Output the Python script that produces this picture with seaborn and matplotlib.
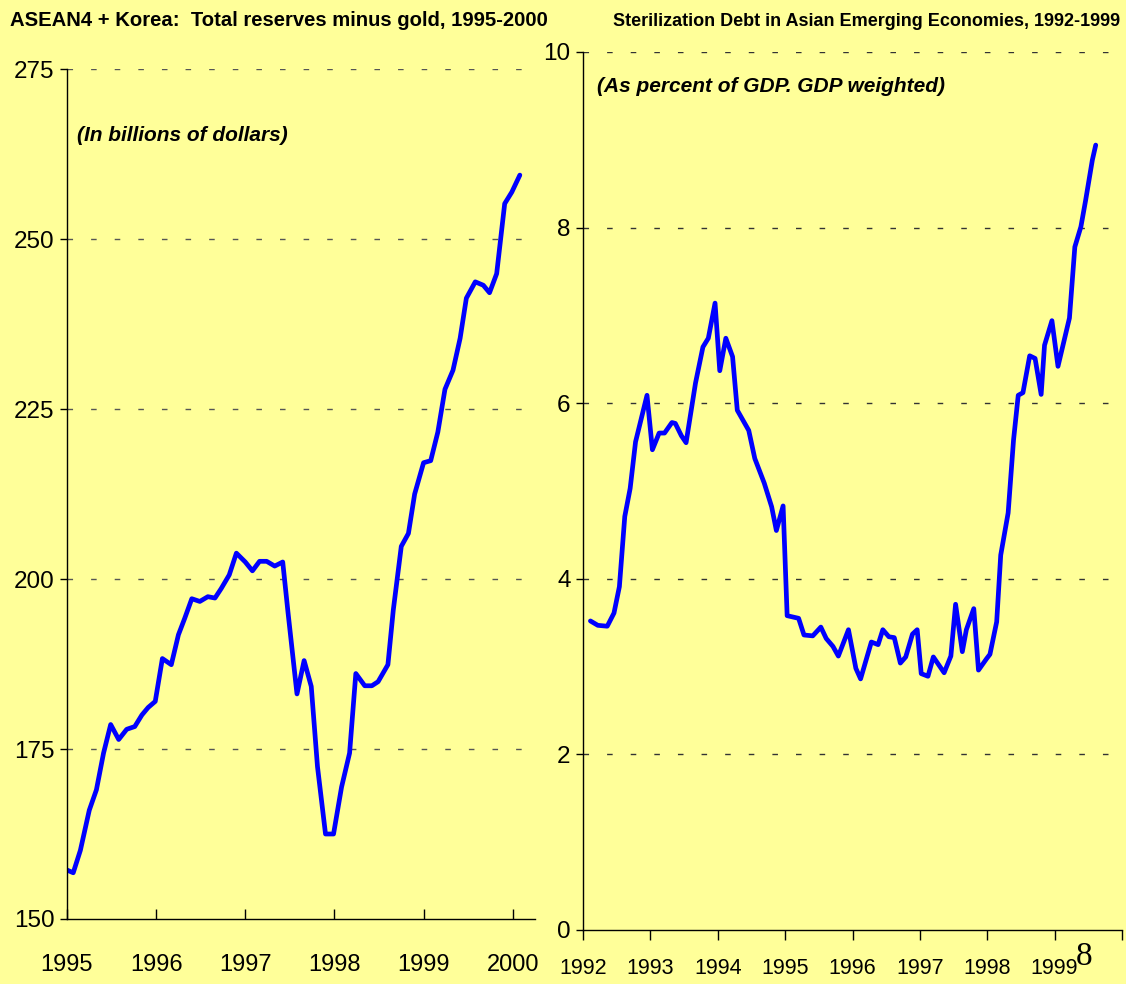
import numpy as np
import pandas as pd
import seaborn as sb
import matplotlib.pyplot as plt

# ASEAN4 + Korea reserves (billions of dollars)
reserve_dates = [1995.00, 1995.07, 1995.15, 1995.25, 1995.33, 1995.41, 1995.49, 1995.58,
                 1995.67, 1995.76, 1995.84, 1995.91, 1995.99, 1996.07, 1996.17, 1996.25,
                 1996.32, 1996.40, 1996.49, 1996.58, 1996.66, 1996.73, 1996.82, 1996.90,
                 1997.00, 1997.08, 1997.16, 1997.24, 1997.33, 1997.42, 1997.48, 1997.58,
                 1997.66, 1997.74, 1997.81, 1997.90, 1997.99, 1998.08, 1998.17, 1998.24,
                 1998.34, 1998.42, 1998.49, 1998.60, 1998.66, 1998.75, 1998.83, 1998.90,
                 1999.00, 1999.08, 1999.16, 1999.24, 1999.33, 1999.41, 1999.48, 1999.58,
                 1999.67, 1999.74, 1999.82, 1999.91, 1999.99, 2000.08]
reserves = [157.2, 156.8, 160.1, 166.0, 169.0, 174.4, 178.6, 176.4,
            177.9, 178.3, 180.0, 181.1, 182.0, 188.3, 187.4, 191.8,
            194.2, 197.1, 196.7, 197.4, 197.2, 198.6, 200.6, 203.8,
            202.5, 201.2, 202.6, 202.6, 201.9, 202.5, 195.0, 183.1,
            188.0, 184.2, 172.4, 162.5, 162.5, 169.4, 174.4, 186.1,
            184.3, 184.3, 184.9, 187.4, 195.4, 204.8, 206.7, 212.5,
            217.1, 217.4, 221.6, 227.9, 230.7, 235.4, 241.3, 243.7,
            243.2, 242.1, 244.9, 255.2, 256.9, 259.4]

# Sterilization debt (percent of GDP)
debt_dates = [1992.11, 1992.22, 1992.36, 1992.46, 1992.54, 1992.62, 1992.70, 1992.78,
              1992.95, 1993.03, 1993.13, 1993.21, 1993.32, 1993.37, 1993.46, 1993.53,
              1993.67, 1993.78, 1993.86, 1993.96, 1994.03, 1994.12, 1994.22, 1994.29,
              1994.46, 1994.55, 1994.69, 1994.80, 1994.87, 1994.97, 1995.03, 1995.20,
              1995.28, 1995.41, 1995.53, 1995.61, 1995.71, 1995.79, 1995.94, 1996.05,
              1996.12, 1996.28, 1996.38, 1996.45, 1996.54, 1996.62, 1996.71, 1996.79,
              1996.89, 1996.96, 1997.02, 1997.12, 1997.20, 1997.36, 1997.46, 1997.53,
              1997.63, 1997.69, 1997.80, 1997.87, 1997.99, 1998.04, 1998.14, 1998.20,
              1998.31, 1998.39, 1998.46, 1998.53, 1998.63, 1998.71, 1998.80, 1998.85,
              1998.96, 1999.05, 1999.22, 1999.30, 1999.39, 1999.46, 1999.56, 1999.61]
debt_pct = [3.52, 3.47, 3.46, 3.61, 3.91, 4.71, 5.03, 5.56,
            6.09, 5.47, 5.66, 5.66, 5.78, 5.77, 5.63, 5.55,
            6.23, 6.64, 6.74, 7.14, 6.37, 6.74, 6.53, 5.92,
            5.69, 5.37, 5.09, 4.82, 4.55, 4.83, 3.58, 3.55,
            3.36, 3.35, 3.45, 3.32, 3.23, 3.12, 3.42, 2.98,
            2.86, 3.28, 3.25, 3.42, 3.34, 3.33, 3.04, 3.11,
            3.37, 3.42, 2.92, 2.89, 3.11, 2.93, 3.12, 3.71,
            3.17, 3.42, 3.66, 2.96, 3.09, 3.14, 3.51, 4.27,
            4.75, 5.58, 6.09, 6.12, 6.54, 6.51, 6.10, 6.66,
            6.94, 6.42, 6.97, 7.78, 8.01, 8.31, 8.77, 8.94]

reserve_years = [1995, 1996, 1997, 1998, 1999, 2000]
reserve_ticks = [150, 175, 200, 225, 250, 275]
debt_years = [1992, 1993, 1994, 1995, 1996, 1997, 1998, 1999, 2000]
debt_year_labels = ['1992', '1993', '1994', '1995', '1996', '1997', '1998', '1999', '']
debt_ticks = [0, 2, 4, 6, 8, 10]

BG = '#FFFF99'
BLUE = '#0000FF'

sb.set_style('ticks')
plt.rcParams['font.family'] = ['Liberation Sans', 'DejaVu Sans']
plt.rcParams['text.color'] = 'black'
plt.rcParams['xtick.color'] = 'black'
plt.rcParams['ytick.color'] = 'black'

fig = plt.figure(figsize=(11.26, 9.84), dpi=100, facecolor=BG)
W, H = 1126, 984

def make_axes(x0, x1, y_bot, y_top):
    return fig.add_axes([x0 / W, 1 - y_bot / H, (x1 - x0) / W, (y_bot - y_top) / H])

ax1 = make_axes(67, 535, 919, 69)
ax2 = make_axes(583, 1122, 930, 52)

res_df = pd.DataFrame({'year': reserve_dates, 'value': reserves})
debt_df = pd.DataFrame({'year': debt_dates, 'value': debt_pct})

sb.lineplot(data=res_df, x='year', y='value', ax=ax1, color=BLUE, linewidth=3.4)
sb.lineplot(data=debt_df, x='year', y='value', ax=ax2, color=BLUE, linewidth=3.4)

for ax in (ax1, ax2):
    ax.set_facecolor(BG)
    ax.set_xlabel('')
    ax.set_ylabel('')
    for s in ('top', 'right'):
        ax.spines[s].set_visible(False)
    for s in ('left', 'bottom'):
        ax.spines[s].set_color('black')
        ax.spines[s].set_linewidth(1.0)

# left panel
ax1.set_xlim(1995, 2000.25)
ax1.set_ylim(150, 275)
ax1.set_xticks(reserve_years)
ax1.set_xticklabels([str(y) for y in reserve_years])
ax1.set_yticks(reserve_ticks)
ax1.tick_params(axis='x', direction='in', length=7, width=1, labelsize=17, pad=25)
ax1.tick_params(axis='y', direction='out', length=5, width=1, labelsize=17.5, pad=4)
for v in reserve_ticks[1:]:
    ax1.axhline(v, color='#555555', lw=1.0, ls=(0, (4, 13)), zorder=0)

# right panel
ax2.set_xlim(1992, 2000)
ax2.set_ylim(0, 10)
ax2.set_xticks(debt_years)
ax2.set_xticklabels(debt_year_labels)
ax2.set_yticks(debt_ticks)
ax2.tick_params(axis='x', direction='out', length=7, width=1, labelsize=15.5, pad=13)
ax2.tick_params(axis='y', direction='out', length=5, width=1, labelsize=17.5, pad=4)
for v in debt_ticks[1:]:
    ax2.axhline(v, color='#333333', lw=1.0, ls=(0, (4, 13)), zorder=0)

# titles and notes
fig.text(10 / W, 1 - 21 / H, 'ASEAN4 + Korea:  Total reserves minus gold, 1995-2000',
         fontsize=14.6, fontweight='bold', va='center', ha='left')
fig.text(1120 / W, 1 - 21 / H, 'Sterilization Debt in Asian Emerging Economies, 1992-1999',
         fontsize=13, fontweight='bold', va='center', ha='right')
ax1.text(0.021, 0.922, '(In billions of dollars)', transform=ax1.transAxes,
         fontsize=15, fontweight='bold', fontstyle='italic', va='center', ha='left')
ax2.text(0.026, 0.961, '(As percent of GDP. GDP weighted)', transform=ax2.transAxes,
         fontsize=15, fontweight='bold', fontstyle='italic', va='center', ha='left')

# page number
fig.text(1084 / W, 1 - 957 / H, '8', fontsize=24, family=['Liberation Serif', 'DejaVu Serif'],
         va='center', ha='center')

plt.savefig('out.png', dpi=100, facecolor=BG)
plt.close()
